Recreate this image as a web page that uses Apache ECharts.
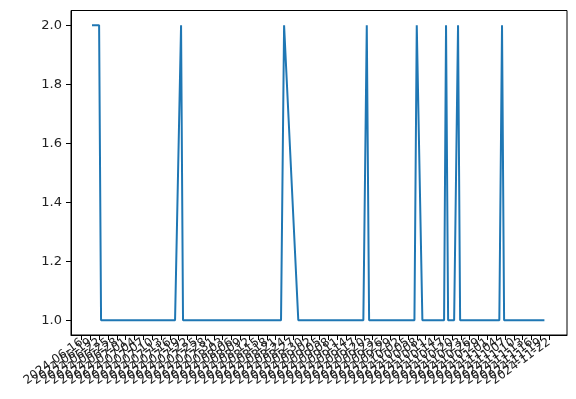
<!DOCTYPE html>
<html><head><meta charset="utf-8">
<script src="https://cdn.jsdelivr.net/npm/echarts@6/dist/echarts.min.js"></script>
<style>html,body{margin:0;padding:0;background:#fff}#c{width:576px;height:399px}</style>
</head><body><div id="c"></div>
<script>
const baseDate = '2024-06-13';
const tickDates = [
 '2024-06-13','2024-06-16','2024-06-19','2024-06-22','2024-06-25','2024-06-28',
 '2024-07-01','2024-07-04','2024-07-07','2024-07-10','2024-07-13','2024-07-16','2024-07-19','2024-07-22','2024-07-25','2024-07-28','2024-07-31',
 '2024-08-03','2024-08-06','2024-08-09','2024-08-12','2024-08-15','2024-08-18','2024-08-21','2024-08-24','2024-08-27','2024-08-30',
 '2024-09-02','2024-09-05','2024-09-08','2024-09-11','2024-09-14','2024-09-17','2024-09-20','2024-09-23','2024-09-26','2024-09-29',
 '2024-10-02','2024-10-05','2024-10-08','2024-10-11','2024-10-14','2024-10-17','2024-10-20','2024-10-23','2024-10-26','2024-10-29',
 '2024-11-01','2024-11-04','2024-11-07','2024-11-10','2024-11-13','2024-11-16','2024-11-19','2024-11-22','2024-11-25'
];
const pointTimes = [
 '2024-06-19 13:00','2024-06-21 23:00','2024-06-22 15:00',
 '2024-07-17 19:00','2024-07-19 20:00','2024-07-20 12:00',
 '2024-08-22 20:00','2024-08-23 21:00','2024-08-28 17:00',
 '2024-09-19 20:00','2024-09-21 00:00','2024-09-21 19:00',
 '2024-10-07 05:00','2024-10-08 00:00','2024-10-09 22:00',
 '2024-10-17 07:00','2024-10-17 23:00','2024-10-18 16:00',
 '2024-10-20 17:00','2024-10-22 01:00','2024-10-22 18:00',
 '2024-11-05 02:00','2024-11-06 00:00','2024-11-06 17:00',
 '2024-11-20 10:00'
];
const pointValues = [2,2,1, 1,2,1, 1,2,1, 1,2,1, 1,2,1, 1,2,1, 1,2,1, 1,2,1, 1];
const yTicks = [1.0, 1.2, 1.4, 1.6, 1.8, 2.0];
const xRangeDays = [-0.6, 168.1];
const yRange = [0.95, 2.05];

function toMs(s){
  const parts = s.split(' ');
  const [Y,M,D] = parts[0].split('-').map(Number);
  const [h,m] = (parts[1] || '0:0').split(':').map(Number);
  return Date.UTC(Y, M-1, D, h, m);
}
const base = toMs(baseDate);
const toDay = s => (toMs(s) - base) / 864e5;
const xTicks = tickDates.map(toDay);
const seriesData = pointTimes.map((t,i) => [toDay(t), pointValues[i]]);

function xLabel(v){
  for (let i = 0; i < xTicks.length; i++) if (Math.abs(xTicks[i] - v) < 1e-6) return tickDates[i];
  return '';
}

const chart = echarts.init(document.getElementById('c'), null, {renderer:'canvas'});
chart.setOption({
  animation: false,
  backgroundColor: '#fff',
  grid: {left: 71, right: 9, top: 10.5, bottom: 64, show: true, borderColor: '#000', borderWidth: 1, backgroundColor: 'transparent'},
  xAxis: {
    type: 'value', min: xRangeDays[0], max: xRangeDays[1],
    axisLine: {show: true, onZero: false, lineStyle: {color: '#000', width: 1}},
    splitLine: {show: false},
    axisTick: {show: true, customValues: xTicks, length: 5, lineStyle: {color: '#000', width: 1}},
    axisLabel: {customValues: xTicks, rotate: 36, formatter: xLabel, fontSize: 12, color: '#222', margin: 6, fontFamily: 'DejaVu Sans', hideOverlap: false}
  },
  yAxis: {
    type: 'value', min: yRange[0], max: yRange[1],
    axisLine: {show: true, onZero: false, lineStyle: {color: '#000', width: 1}},
    splitLine: {show: false},
    axisTick: {show: true, customValues: yTicks, length: 5, lineStyle: {color: '#000', width: 1}},
    axisLabel: {customValues: yTicks, formatter: v => Number(v).toFixed(1), fontSize: 13, color: '#222', margin: 9, fontFamily: 'DejaVu Sans'}
  },
  series: [{
    type: 'line', data: seriesData, showSymbol: false, symbol: 'none',
    lineStyle: {color: '#1f77b4', width: 2}, itemStyle: {color: '#1f77b4'}
  }]
});
</script></body></html>
